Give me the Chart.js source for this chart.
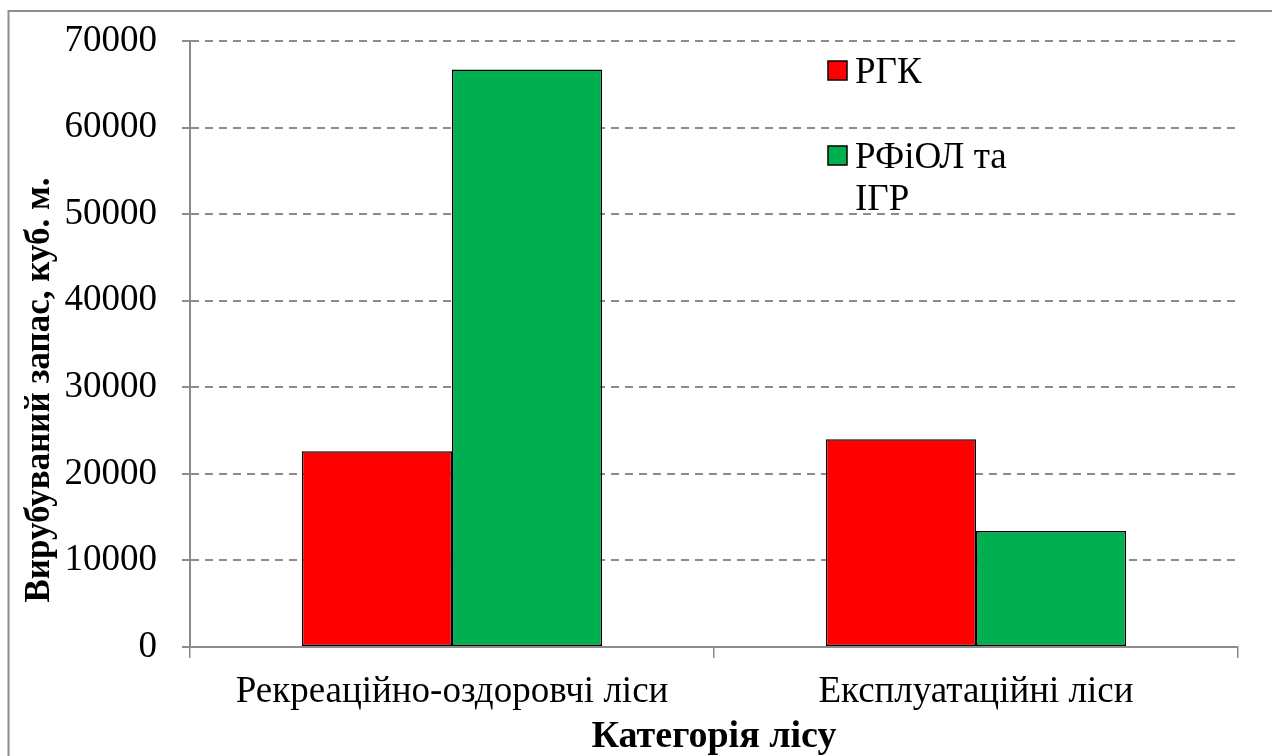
<!DOCTYPE html>
<html>
<head>
<meta charset="utf-8">
<script src="https://cdn.jsdelivr.net/npm/chart.js@4.4.1/dist/chart.umd.min.js"></script>
<style>
html,body{margin:0;padding:0;background:#fff;}
#wrap{width:1272px;height:756px;position:relative;}
</style>
</head>
<body>
<div id="wrap"><canvas id="c" width="1272" height="756"></canvas></div>
<script>
const categories = ["Рекреаційно-оздоровчі ліси", "Експлуатаційні ліси"];
const seriesNames = ["РГК", "РФіОЛ та ІГР"];
const rgkValues = [22600, 24000];
const rfiolValues = [66700, 13400];
const seriesColors = ["#FF0000", "#00B050"];
const yTitle = "Вирубуваний запас, куб. м.";
const xTitle = "Категорія лісу";
const yMin = 0, yMax = 70000, yStep = 10000;

const FONT = "'Liberation Serif', 'Times New Roman', serif";

const framePlugin = {
  id: 'frame',
  beforeDraw(chart) {
    const ctx = chart.ctx;
    ctx.save();
    ctx.fillStyle = '#fff';
    ctx.fillRect(0, 0, chart.width, chart.height);
    ctx.strokeStyle = '#8c8c8c';
    ctx.lineWidth = 2;
    ctx.beginPath();
    ctx.moveTo(8.5, chart.height + 5);
    ctx.lineTo(8.5, 11);
    ctx.lineTo(chart.width + 5, 11);
    ctx.stroke();
    ctx.restore();
  }
};

const yTitlePlugin = {
  id: 'yTitleOffset',
  afterDraw(chart) {
    const ctx = chart.ctx;
    ctx.save();
    ctx.translate(40, 390);
    ctx.rotate(-Math.PI / 2);
    ctx.font = "bold 35px " + FONT;
    ctx.fillStyle = '#000';
    ctx.textAlign = 'center';
    ctx.textBaseline = 'middle';
    ctx.fillText(yTitle, 0, 0);
    ctx.restore();
  }
};

const legendPlugin = {
  id: 'customLegend',
  afterDraw(chart) {
    const ctx = chart.ctx;
    ctx.save();
    ctx.font = "37px " + FONT;
    ctx.textBaseline = 'alphabetic';
    const x0 = 828, boxSize = 19, textX = 855, maxW = 190, lineH = 42;
    const rows = [{ y: 83 }, { y: 168 }];
    chart.data.datasets.forEach((ds, i) => {
      const baseline = rows[i].y;
      ctx.fillStyle = ds.backgroundColor;
      ctx.fillRect(x0, baseline - 22, boxSize, boxSize);
      ctx.strokeStyle = '#000';
      ctx.lineWidth = 1.5;
      ctx.strokeRect(x0, baseline - 22, boxSize, boxSize);
      const words = ds.label.split(' ');
      const lines = [];
      let cur = '';
      words.forEach(w => {
        const t = cur ? cur + ' ' + w : w;
        if (ctx.measureText(t).width > maxW && cur) { lines.push(cur); cur = w; }
        else cur = t;
      });
      if (cur) lines.push(cur);
      ctx.fillStyle = '#000';
      lines.forEach((ln, k) => ctx.fillText(ln, textX, baseline + k * lineH));
    });
    ctx.restore();
  }
};

new Chart(document.getElementById('c'), {
  type: 'bar',
  data: {
    labels: categories,
    datasets: [
      { label: seriesNames[0], data: rgkValues, backgroundColor: seriesColors[0], borderColor: '#000', borderWidth: 1.5, borderSkipped: false },
      { label: seriesNames[1], data: rfiolValues, backgroundColor: seriesColors[1], borderColor: '#000', borderWidth: 1.5, borderSkipped: false }
    ]
  },
  options: {
    responsive: false,
    animation: false,
    devicePixelRatio: 1,
    layout: { padding: { top: 41, right: 34, left: 10, bottom: 0 } },
    datasets: { bar: { categoryPercentage: 0.573, barPercentage: 1.0 } },
    plugins: {
      legend: { display: false },
      tooltip: { enabled: false }
    },
    scales: {
      x: {
        offset: true,
        grid: { display: true, drawOnChartArea: false, drawTicks: true, tickLength: 11, color: '#8c8c8c', lineWidth: 1.5, offset: true },
        border: { display: true, color: '#8c8c8c', width: 2 },
        ticks: { color: '#000', font: { family: FONT, size: 37 }, padding: 12, maxRotation: 0, autoSkip: false },
        title: { display: true, text: xTitle, color: '#000', font: { family: FONT, size: 38, weight: 'bold' }, padding: { top: 0, bottom: -4 } },
        afterFit(scale) { scale.height = 109; scale.paddingLeft = 0; scale.paddingRight = 0; }
      },
      y: {
        min: yMin, max: yMax,
        ticks: { stepSize: yStep, color: '#000', font: { family: FONT, size: 37 }, padding: 25, callback: (v) => String(v) },
        grid: { color: '#8c8c8c', lineWidth: 2, tickLength: 8, tickColor: '#8c8c8c', tickBorderDash: [], drawTicks: true },
        border: { display: true, color: '#8c8c8c', width: 2, dash: [8, 6] },
        title: { display: false, text: yTitle },
        afterFit(scale) { scale.width = 180; scale.paddingTop = 0; scale.paddingBottom = 0; }
      }
    }
  },
  plugins: [framePlugin, legendPlugin, yTitlePlugin]
});
</script>
</body>
</html>
